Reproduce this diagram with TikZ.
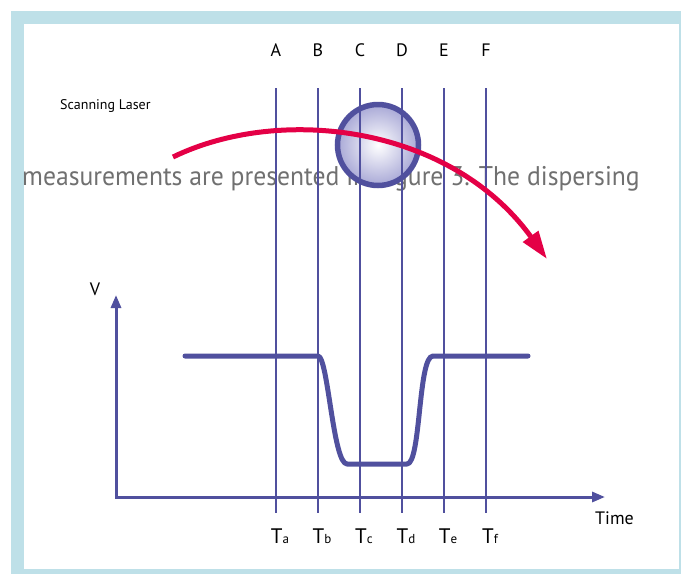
\documentclass[tikz,border=0pt]{standalone}
\usepackage{fontspec}
\setmainfont{PT Sans}
\newfontfamily\captionfont[FakeStretch=0.95]{PT Sans}
\usetikzlibrary{arrows.meta}
\usetikzlibrary{calc}

\definecolor{scanblue}{RGB}{80,80,158}
\definecolor{beadedge}{RGB}{168,168,214}
\definecolor{laserred}{RGB}{228,0,70}
\definecolor{framecyan}{RGB}{190,224,232}
\definecolor{captiongray}{RGB}{112,112,112}

\begin{document}
\begin{tikzpicture}[x=1pt, y=-1pt,
    every node/.style={inner sep=0pt, font=\fontsize{18}{20}\selectfont},
    gate/.style={draw=scanblue, line width=2.8pt},
    signal/.style={draw=scanblue, line width=5pt, line cap=round, line join=round},
    axis/.style={draw=scanblue, line width=3pt},
    laser/.style={draw=laserred, line width=5pt}]

        \useasboundingbox (0,0) rectangle (681,574);
        \fill[framecyan] (11,11) rectangle (681,574);
        \fill[white] (24,24) rectangle (679,569);

        \def\gatetop{88} % upper end of the gate lines
        \def\gatebottom{513} % lower end, below the time axis

        \node[anchor=base west, text=captiongray, font=\captionfont\fontsize{27}{30}\selectfont] (caption) at (22,185) {measurements are presented in Figure 3. The dispersing};

        \node[circle, draw=scanblue, line width=5.5pt, minimum size=81pt, inner color=white, outer color=beadedge] (bead) at (378,145) {};

        \node[anchor=base west, font=\fontsize{14}{16}\selectfont] (scan) at (60,109) {Scanning Laser};

        \foreach \L/\s [count=\i from 0] in {A/a,B/b,C/c,D/d,E/e,F/f} {
          \pgfmathsetmacro\gatex{276 + 42*\i}

          \node (lab\L) at (\gatex,50) {\L};
          \coordinate (top\L) at (\gatex,\gatetop);
          \coordinate (bot\L) at (\gatex,\gatebottom);
          \node[anchor=base] (t\s) at (\gatex+4,543) {{\fontsize{21}{22}\selectfont T}{\fontsize{13}{14}\selectfont\s}};

          \draw[gate] (top\L) -- (bot\L);
        }

        \coordinate (origin) at (116,497);
        \coordinate (vtip) at (116,295);
        \coordinate (ttip) at (605,497);
        \draw[axis, {Triangle[length=13pt,width=10pt]}-{Triangle[length=13pt,width=10pt]}] (vtip) -- (origin) -- (ttip);

        \node (vlab) at (95,289) {V};
        \node[anchor=base west] (timelab) at (595,524) {Time};

        \coordinate (highleft) at (185,356);
        \coordinate (fall) at (318,356);
        \coordinate (lowleft) at (347,464);
        \coordinate (lowright) at (407,464);
        \coordinate (rise) at (433,356);
        \coordinate (highright) at (528,356);
        \draw[signal] (highleft) -- (fall) .. controls (328,356) and (333,464) .. (lowleft) -- (lowright) .. controls (421,464) and (418,356) .. (rise) -- (highright);

        \coordinate (laserstart) at (173,157);
        \coordinate (laserend) at (547,259);
        \draw[laser, -{Triangle[length=28pt,width=18pt]}] (laserstart) .. controls (280,105) and (450,125) .. (laserend);

      \end{tikzpicture}
\end{document}
